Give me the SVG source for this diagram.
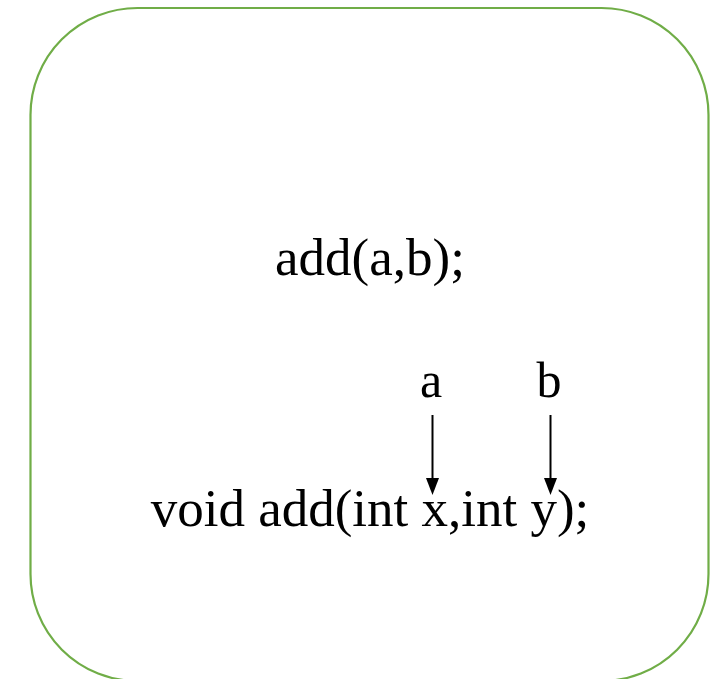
<svg xmlns="http://www.w3.org/2000/svg" width="719" height="679" viewBox="0 0 719 679">
<style>
.t{font-family:"Liberation Serif","Times New Roman",serif;fill:#000;text-anchor:middle}
.big{font-size:53px}
.small{font-size:50px}
.c{stroke:#000;stroke-width:2;fill:none}
.head{fill:#000}
</style>
<rect width="719" height="679" fill="#fff"/>
<g id="frame">
<rect x="30.5" y="8" width="678" height="673" rx="107" ry="107" fill="none" stroke="#70AD47" stroke-width="2.2"/>
</g>
<g id="call">
<text class="t big" x="370" y="275">add(a,b);</text>
</g>
<g id="label-a">
<text class="t small" x="431" y="397">a</text>
</g>
<g id="label-b">
<text class="t small" x="549" y="397">b</text>
</g>
<g id="decl">
<text class="t big" x="370" y="526">void add(int x,int y);</text>
</g>
<g id="connectors">
<line class="c" x1="432.5" y1="415" x2="432.5" y2="478"/>
<path class="head" d="M426,478 L439,478 L432.5,495 Z"/>
<line class="c" x1="550.5" y1="415" x2="550.5" y2="478"/>
<path class="head" d="M544,478 L557,478 L550.5,495 Z"/>
</g>
</svg>
